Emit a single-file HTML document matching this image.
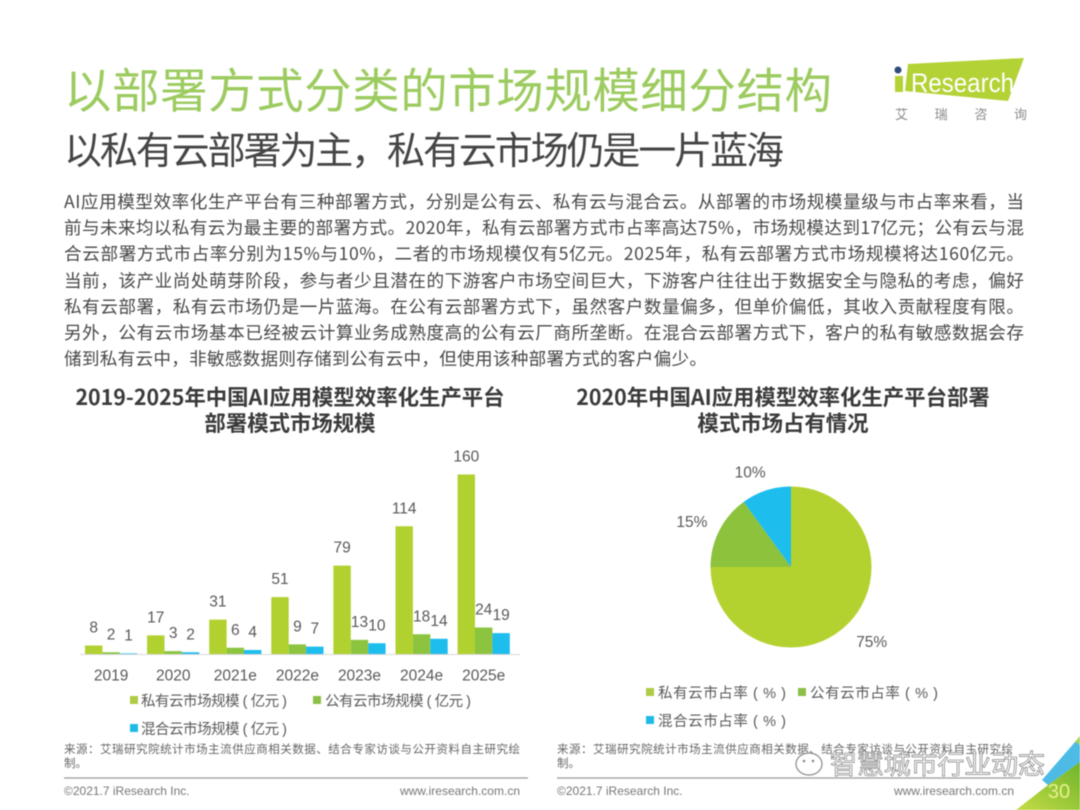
<!DOCTYPE html>
<html lang="zh-CN">
<head>
<meta charset="utf-8">
<title>以部署方式分类的市场规模细分结构</title>
<style>
html,body{margin:0;padding:0;background:#fff;width:1080px;height:810px;overflow:hidden}
svg{display:block;font-family:"Liberation Sans","Noto Sans CJK SC",sans-serif;filter:blur(0.5px)}
.cjk{font-family:"Noto Sans CJK SC","Liberation Sans",sans-serif}
.mixed{font-family:"Liberation Sans","Noto Sans CJK SC",sans-serif}
.body-line{font-size:17.6px;fill:#484848}
.chart-title{font-size:21.4px;font-weight:700;fill:#3a3a3a;text-anchor:middle}
.legend-text{font-size:14.5px;fill:#595959}
.source{font-size:11.5px;fill:#666}
.foot{font-size:12px;fill:#777}
.val{font-size:15.5px;fill:#595959;text-anchor:middle}
.tick{font-size:15.5px;fill:#595959;text-anchor:middle}
</style>
</head>
<body>
<svg id="page" xmlns="http://www.w3.org/2000/svg" width="1080" height="810" viewBox="0 0 1080 810">
  <rect width="1080" height="810" fill="#fff"/>

  <text class="cjk" x="64" y="108" font-size="47.5" fill="#9ccb5f" textLength="768" lengthAdjust="spacing">以部署方式分类的市场规模细分结构</text>
  <text class="cjk" x="64" y="164" font-size="38" fill="#454545" textLength="720" lengthAdjust="spacing">以私有云部署为主，私有云市场仍是一片蓝海</text>

  <g>
    <polygon points="908,64 1024,58 1008,101 905,91" fill="#b3d235"/>
    <circle cx="898" cy="70" r="3.5" fill="#2f4a7d"/>
    <rect x="895" y="76" width="8" height="16" fill="#b3d235"/>
    <text x="911" y="92" font-size="27" fill="#fff" textLength="103" lengthAdjust="spacingAndGlyphs">Research</text>
    <text class="cjk" x="895" y="119" font-size="13" fill="#8a8a8a" textLength="132" lengthAdjust="spacing">艾瑞咨询</text>
  </g>

  <g class="cjk">
    <text class="body-line" x="64" y="208" textLength="960" lengthAdjust="spacing">AI应用模型效率化生产平台有三种部署方式，分别是公有云、私有云与混合云。从部署的市场规模量级与市占率来看，当</text>
    <text class="body-line" x="64" y="234" textLength="960" lengthAdjust="spacing">前与未来均以私有云为最主要的部署方式。2020年，私有云部署方式市占率高达75%，市场规模达到17亿元；公有云与混</text>
    <text class="body-line" x="64" y="260" textLength="960" lengthAdjust="spacing">合云部署方式市占率分别为15%与10%，二者的市场规模仅有5亿元。2025年，私有云部署方式市场规模将达160亿元。</text>
    <text class="body-line" x="64" y="287" textLength="960" lengthAdjust="spacing">当前，该产业尚处萌芽阶段，参与者少且潜在的下游客户市场空间巨大，下游客户往往出于数据安全与隐私的考虑，偏好</text>
    <text class="body-line" x="64" y="313" textLength="960" lengthAdjust="spacing">私有云部署，私有云市场仍是一片蓝海。在公有云部署方式下，虽然客户数量偏多，但单价偏低，其收入贡献程度有限。</text>
    <text class="body-line" x="64" y="339" textLength="960" lengthAdjust="spacing">另外，公有云市场基本已经被云计算业务成熟度高的公有云厂商所垄断。在混合云部署方式下，客户的私有敏感数据会存</text>
    <text class="body-line" x="64" y="365" textLength="643" lengthAdjust="spacing">储到私有云中，非敏感数据则存储到公有云中，但使用该种部署方式的客户偏少。</text>
  </g>

  <g class="cjk">
    <text class="chart-title" x="290" y="405">2019-2025年中国AI应用模型效率化生产平台</text>
    <text class="chart-title" x="290" y="431">部署模式市场规模</text>
  </g>
  <g class="cjk">
    <text class="chart-title" x="783" y="405">2020年中国AI应用模型效率化生产平台部署</text>
    <text class="chart-title" x="783" y="431">模式市场占有情况</text>
  </g>

  <g id="bar-chart"></g>
  <g id="pie-chart"></g>

  <g class="mixed">
    <rect x="130" y="696" width="8" height="8" fill="#b0cc45"/>
    <text class="legend-text" x="141" y="706" textLength="146" lengthAdjust="spacing">私有云市场规模 ( 亿元 )</text>
    <rect x="313" y="696" width="8" height="8" fill="#8cbf45"/>
    <text class="legend-text" x="325" y="706" textLength="146" lengthAdjust="spacing">公有云市场规模 ( 亿元 )</text>
    <rect x="130" y="724" width="8" height="8" fill="#1fb9e6"/>
    <text class="legend-text" x="141" y="734" textLength="146" lengthAdjust="spacing">混合云市场规模 ( 亿元 )</text>
  </g>
  <g class="mixed">
    <rect x="646" y="688" width="8" height="8" fill="#b0cc45"/>
    <text class="legend-text" x="658" y="698" textLength="128" lengthAdjust="spacing">私有云市占率 ( % )</text>
    <rect x="798" y="688" width="8" height="8" fill="#8cbf45"/>
    <text class="legend-text" x="810" y="698" textLength="128" lengthAdjust="spacing">公有云市占率 ( % )</text>
    <rect x="646" y="716" width="8" height="8" fill="#1fb9e6"/>
    <text class="legend-text" x="658" y="726" textLength="128" lengthAdjust="spacing">混合云市占率 ( % )</text>
  </g>

  <g class="cjk">
    <text class="source" x="64" y="753" textLength="456" lengthAdjust="spacing">来源：艾瑞研究院统计市场主流供应商相关数据、结合专家访谈与公开资料自主研究绘</text>
    <text class="source" x="64" y="767">制。</text>
  </g>
  <g class="cjk">
    <text class="source" x="557" y="753" textLength="456" lengthAdjust="spacing">来源：艾瑞研究院统计市场主流供应商相关数据、结合专家访谈与公开资料自主研究绘</text>
    <text class="source" x="557" y="767">制。</text>
  </g>

  <line x1="64" x2="528" y1="778" y2="778" stroke="#9a9a9a" stroke-width="1.2"/>
  <line x1="557" x2="1021" y1="778" y2="778" stroke="#9a9a9a" stroke-width="1.2"/>
  <text class="foot" x="64" y="795">©2021.7 iResearch Inc.</text>
  <text class="foot" x="520" y="795" text-anchor="end">www.iresearch.com.cn</text>
  <text class="foot" x="557" y="795">©2021.7 iResearch Inc.</text>
  <text class="foot" x="1014" y="795" text-anchor="end">www.iresearch.com.cn</text>

  <g>
    <defs>
      <linearGradient id="cornerFill" x1="0" y1="1" x2="1" y2="0">
        <stop offset="0" stop-color="#c5dc45"/>
        <stop offset="1" stop-color="#6fb52c"/>
      </linearGradient>
    </defs>
    <polygon points="1074,743 1080,736 1080,745" fill="#a8d060"/>
    <polygon points="1042,780 1075,742 1080,745 1080,762 1048,785" fill="#4dbbe6"/>
    <polygon points="1016,810 1048,785 1080,762 1080,810" fill="url(#cornerFill)"/>
    <text x="1059" y="798" font-size="20" fill="#e6f08c" text-anchor="middle">30</text>
  </g>

  <g>
    <ellipse cx="809" cy="764" rx="13" ry="11" fill="#fff" stroke="#8a8a8a" stroke-width="1.2"/>
    <circle cx="804" cy="761" r="1.3" fill="#8a8a8a"/>
    <circle cx="813" cy="761" r="1.3" fill="#8a8a8a"/>
    <text class="cjk" x="830" y="774" font-size="27" fill="#fff" stroke="#7d7d7d" stroke-width="0.7" textLength="215" lengthAdjust="spacing">智慧城市行业动态</text>
  </g>
</svg>

<script>
const categories = ['2019', '2020', '2021e', '2022e', '2023e', '2024e', '2025e'];
const privateCloud = [8, 17, 31, 51, 79, 114, 160];
const publicCloud = [2, 3, 6, 9, 13, 18, 24];
const hybridCloud = [1, 2, 4, 7, 10, 14, 19];
const shareLabels = ['75%', '15%', '10%'];
const shareValues = [75, 15, 10];

const NS = 'http://www.w3.org/2000/svg';
const barRoot = document.getElementById('bar-chart');
const pieRoot = document.getElementById('pie-chart');

function make(tag, attrs, parent) {
  const el = document.createElementNS(NS, tag);
  for (const k in attrs) el.setAttribute(k, attrs[k]);
  parent.appendChild(el);
  return el;
}

const baseY = 654.5;
const unitPx = 1.125;
const groupStep = 62.1;
const barW = 17.4;
function xGroup(i) { return 85 + groupStep * i; }
function yValue(v) { return baseY - v * unitPx; }

const seriesList = [
  { key: 'private', values: privateCloud, color: '#b0d12f' },
  { key: 'public', values: publicCloud, color: '#8cc440' },
  { key: 'hybrid', values: hybridCloud, color: '#1dbdee' }
];

categories.forEach(function (cat, i) {
  seriesList.forEach(function (s, j) {
    const v = s.values[i];
    const x = xGroup(i) + j * barW;
    const bar = make('rect', { x: x, y: yValue(v), width: barW, height: v * unitPx, fill: s.color }, barRoot);
    
    
    const label = make('text', { x: x + barW / 2, y: yValue(v) - 13, class: 'val' }, barRoot);
    label.textContent = v;
    
    
  });
  const tick = make('text', { x: xGroup(i) + barW * 1.5, y: 680.5, class: 'tick' }, barRoot);
  tick.textContent = cat;
  
  
});
const axis = make('line', { x1: 80, x2: 520, y1: baseY, y2: baseY, stroke: '#d9d9d9', 'stroke-width': 1 }, barRoot);



const pieCx = 791;
const pieCy = 567;
const pieR = 80.5;
const pieColors = ['#b4d22f', '#8cc23c', '#1dbdee'];
const pieKeys = ['private', 'public', 'hybrid'];
const shareTotal = shareValues.reduce(function (a, b) { return a + b; }, 0);
function polar(angle, r) {
  return [pieCx + r * Math.sin(angle), pieCy - r * Math.cos(angle)];
}
let cumulative = 0;
shareValues.forEach(function (v, i) {
  const a0 = cumulative / shareTotal * 2 * Math.PI;
  cumulative += v;
  const a1 = cumulative / shareTotal * 2 * Math.PI;
  const p0 = polar(a0, pieR);
  const p1 = polar(a1, pieR);
  const large = (a1 - a0) > Math.PI ? 1 : 0;
  const d = 'M' + pieCx + ' ' + pieCy + ' L' + p0[0] + ' ' + p0[1] + ' A' + pieR + ' ' + pieR + ' 0 ' + large + ' 1 ' + p1[0] + ' ' + p1[1] + ' Z';
  const slice = make('path', { d: d, fill: pieColors[i] }, pieRoot);
  
  
  const mid = (a0 + a1) / 2;
  const lp = polar(mid, 100);
  const side = Math.sin(mid) >= 0 ? 1 : -1;
  const lab = make('text', { x: lp[0] + side * 10, y: lp[1] + 5.5 + (Math.cos(mid) < 0 ? 4 : 0), class: 'val' }, pieRoot);
  lab.textContent = shareLabels[i];
  
  
});
</script>
</body>
</html>
